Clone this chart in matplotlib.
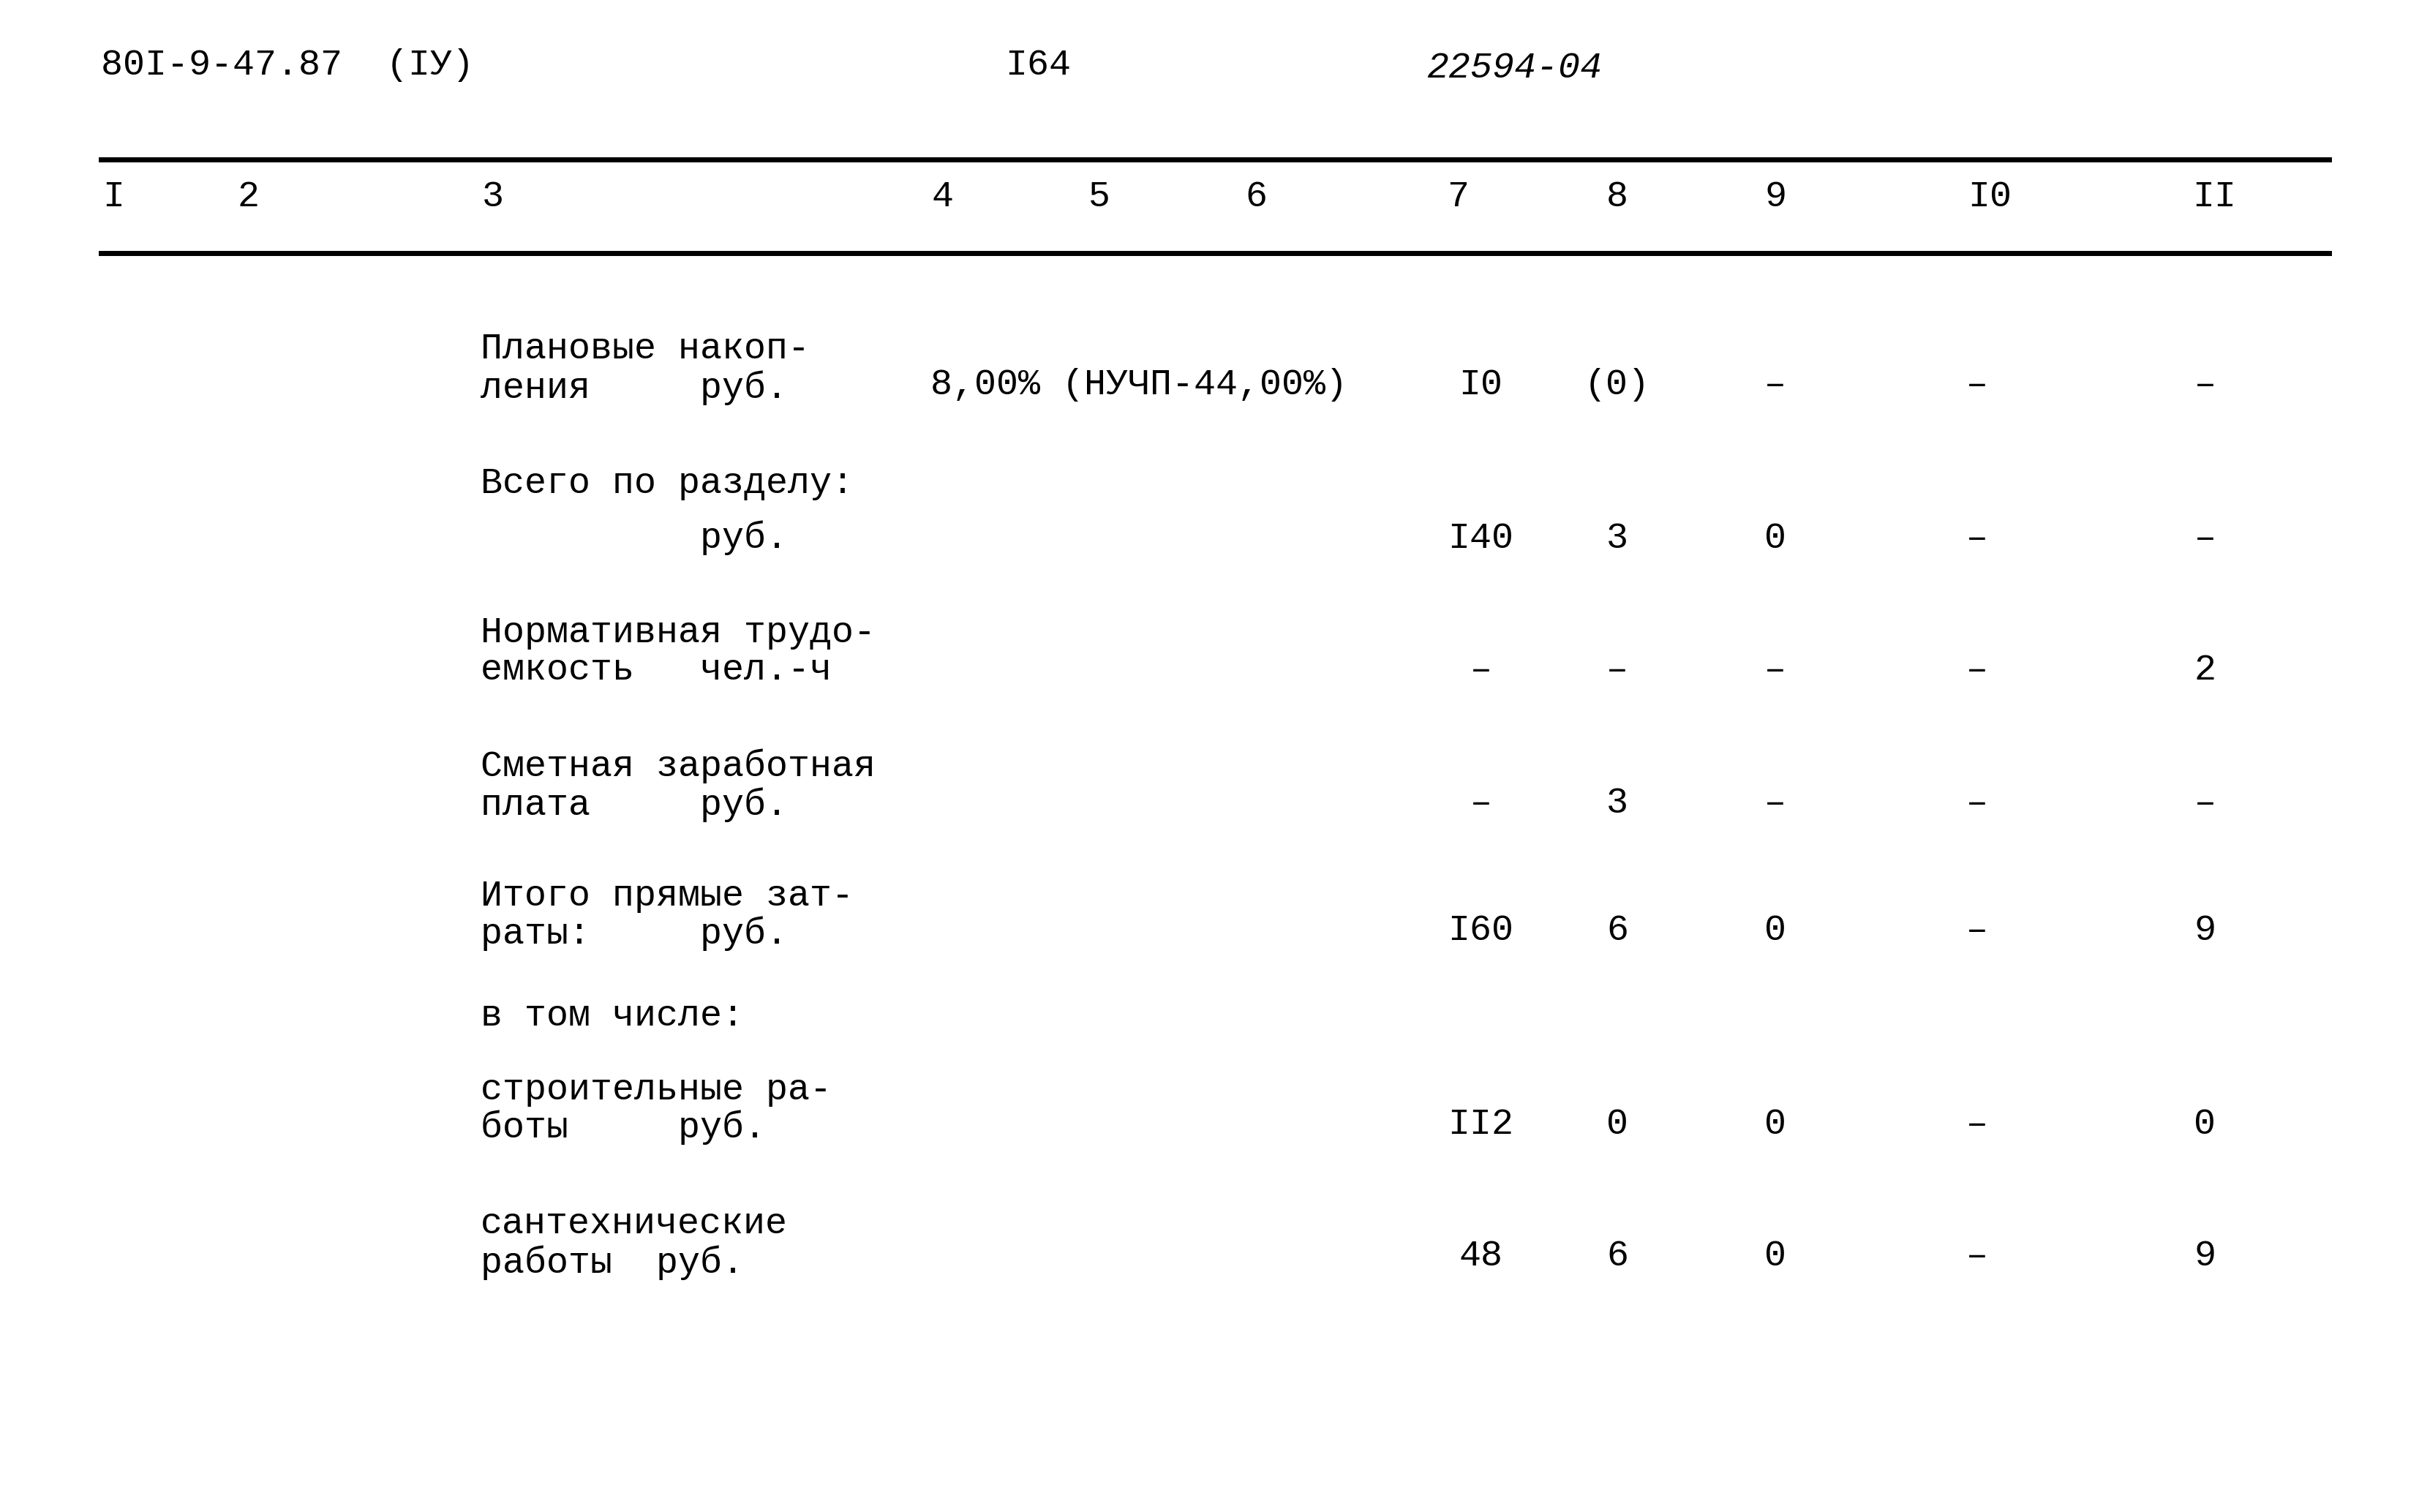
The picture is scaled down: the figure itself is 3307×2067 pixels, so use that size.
import matplotlib
matplotlib.use("Agg")
import matplotlib.pyplot as plt

W, H = 1560, 975  # layout reference units
col_heads = ["I", "2", "3", "4", "5", "6", "7", "8", "9", "I0", "II"]
col_head_x = [73, 160, 318, 608, 709, 810, 940, 1043, 1145, 1283, 1428]
val_x = [955, 1043, 1145, 1275, 1422]

labels = [
    (["Плановые накоп-", "ления     руб."], [225, 250]),
    (["Всего по разделу:", "          руб."], [312, 347]),
    (["Нормативная трудо-", "емкость   чел.-ч"], [408, 432]),
    (["Сметная заработная", "плата     руб."], [494, 519]),
    (["Итого прямые зат-", "раты:     руб."], [578, 602]),
    (["в том числе:"], [655]),
    (["строительные ра-", "боты     руб."], [703, 727]),
    (["сантехнические", "работы  руб."], [789, 814]),
]
values = [
    ["I0", "(0)", "–", "–", "–"],
    ["I40", "3", "0", "–", "–"],
    ["–", "–", "–", "–", "2"],
    ["–", "3", "–", "–", "–"],
    ["I60", "6", "0", "–", "9"],
    None,
    ["II2", "0", "0", "–", "0"],
    ["48", "6", "0", "–", "9"],
]
value_y = [248, 347, 432, 518, 600, None, 725, 810]

fig = plt.figure(figsize=(33.07, 20.67), dpi=100)
fig.patch.set_facecolor("white")
FONT = "Liberation Mono"
FS = 36

def T(x, y, s, ha="left", **kw):
    fig.text(x / W, 1 - y / H, s, ha=ha, va="center", family=FONT, fontsize=FS, **kw)

T(65, 42, "80I-9-47.87  (IУ)")
T(648, 42, "I64")
T(920, 44, "22594-04", style="italic")

for y, lw in [(103, 5), (163, 5)]:
    fig.add_artist(plt.Line2D([65 / W, 1502 / W], [1 - y / H] * 2, color="black", lw=lw))

for s, x in zip(col_heads, col_head_x):
    T(x, 127, s, ha="center")

for (lines, ys) in labels:
    for s, y in zip(lines, ys):
        T(310, y, s)

T(600, 248, "8,00% (НУЧП-44,00%)")

for vals, y in zip(values, value_y):
    if vals is None:
        continue
    for v, x in zip(vals, val_x):
        T(x, y, v, ha="center")

fig.savefig("out.png", dpi=100, facecolor="white")
